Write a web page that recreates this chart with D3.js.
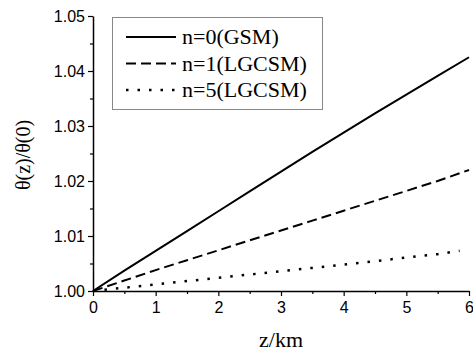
<!DOCTYPE html>
<html>
<head>
<meta charset="utf-8">
<script src="https://cdn.jsdelivr.net/npm/d3@7"></script>
<style>
  body { margin: 0; background: #fff; }
  svg { display: block; }
  .serif { font-family: "Liberation Serif", "Times New Roman", Times, "DejaVu Serif", serif; }
  .sans { font-family: "Liberation Sans", Arial, Helvetica, sans-serif; }
</style>
</head>
<body>
<div class="chart"></div>
<script>
// distances (km) where the curves were read
var zKm = [0, 0.5, 1, 1.5, 2, 2.5, 3, 3.5, 4, 4.5, 5, 5.5, 6];
var gsm0 = [1.0, 1.0037, 1.0073, 1.0109, 1.0145, 1.0181, 1.0217, 1.0253, 1.0288, 1.0323, 1.0357, 1.0391, 1.0425];
var lgcsm1 = [1.0, 1.0019, 1.0038, 1.0056, 1.0074, 1.0092, 1.0110, 1.0128, 1.0146, 1.0164, 1.0182, 1.0200, 1.0220];
var zKm5 = [0, 0.5, 1, 1.5, 2, 2.5, 3, 3.5, 4, 4.5, 5, 5.5, 5.85];
var lgcsm5 = [1.0, 1.0006, 1.0012, 1.0018, 1.0024, 1.0030, 1.0036, 1.0042, 1.0048, 1.0054, 1.0061, 1.0067, 1.0073];

var xTicks = [0, 1, 2, 3, 4, 5, 6];
var yTicks = [1.00, 1.01, 1.02, 1.03, 1.04, 1.05];
var legendLabels = ["n=0(GSM)", "n=1(LGCSM)", "n=5(LGCSM)"];

var width = 473, height = 354;
var margin = {left: 93, right: 4, top: 16, bottom: 63};

var svg = d3.select(".chart").append("svg")
    .attr("width", width)
    .attr("height", height);

var x = d3.scaleLinear().domain([0, 6]).range([margin.left, width - margin.right]);
var y = d3.scaleLinear().domain([1.0, 1.05]).range([height - margin.bottom, margin.top]);

// minor ticks first, then the major axes
svg.append("g")
    .attr("transform", "translate(0," + (height - margin.bottom) + ")")
    .call(d3.axisBottom(x).tickValues(d3.range(0.5, 6, 1)).tickSize(3).tickFormat(""))
    .call(function(g){ g.select(".domain").remove(); });

svg.append("g")
    .attr("transform", "translate(" + margin.left + ",0)")
    .call(d3.axisLeft(y).tickValues(d3.range(1.005, 1.05, 0.01)).tickSize(3).tickFormat(""))
    .call(function(g){ g.select(".domain").remove(); });

var xAxis = svg.append("g")
    .attr("transform", "translate(0," + (height - margin.bottom) + ")")
    .call(d3.axisBottom(x).tickValues(xTicks).tickSize(5).tickSizeOuter(0).tickPadding(6).tickFormat(d3.format("d")));

var yAxis = svg.append("g")
    .attr("transform", "translate(" + margin.left + ",0)")
    .call(d3.axisLeft(y).tickValues(yTicks).tickSize(5).tickSizeOuter(0).tickPadding(3).tickFormat(d3.format(".2f")));

svg.selectAll("g").attr("font-family", null).attr("font-size", null);
svg.selectAll(".tick line").attr("stroke", "#000").attr("stroke-width", 1.2);
svg.selectAll(".domain").attr("stroke", "#000").attr("stroke-width", 1.5);
svg.selectAll(".tick text")
    .attr("class", "sans")
    .style("font-size", "16px")
    .attr("fill", "#000");

// axis titles
svg.append("text")
    .attr("class", "serif")
    .attr("x", x(3))
    .attr("y", 347)
    .attr("text-anchor", "middle")
    .style("font-size", "22px")
    .text("z/km");

svg.append("text")
    .attr("class", "serif")
    .attr("transform", "translate(30,155) rotate(-90)")
    .attr("text-anchor", "middle")
    .style("font-size", "20px")
    .text("θ(z)/θ(0)");

// curves
var series = [
  {xs: zKm, ys: gsm0, dash: null, width: 2},
  {xs: zKm, ys: lgcsm1, dash: "10,5", width: 2},
  {xs: zKm5, ys: lgcsm5, dash: "2.5,9", width: 2.5}
];

var line = d3.line()
    .x(function(d){ return x(d[0]); })
    .y(function(d){ return y(d[1]); });

series.forEach(function(s){
  svg.append("path")
      .datum(d3.zip(s.xs, s.ys))
      .attr("d", line)
      .attr("fill", "none")
      .attr("stroke", "#000")
      .attr("stroke-width", s.width)
      .attr("stroke-dasharray", s.dash);
});

// legend
var legend = svg.append("g");
legend.append("rect")
    .attr("x", 112.5)
    .attr("y", 17.5)
    .attr("width", 210)
    .attr("height", 92)
    .attr("fill", "#fff")
    .attr("stroke", "#888")
    .attr("stroke-width", 1);

legendLabels.forEach(function(lbl, i){
  var ly = 37 + i * 26.5;
  legend.append("line")
      .attr("x1", 126).attr("x2", 176)
      .attr("y1", ly).attr("y2", ly)
      .attr("stroke", "#000")
      .attr("stroke-width", series[i].width)
      .attr("stroke-dasharray", series[i].dash);
  legend.append("text")
      .attr("class", "serif")
      .attr("x", 182)
      .attr("y", ly + 7)
      .style("font-size", "22px")
      .text(lbl);
});
</script>
</body>
</html>
